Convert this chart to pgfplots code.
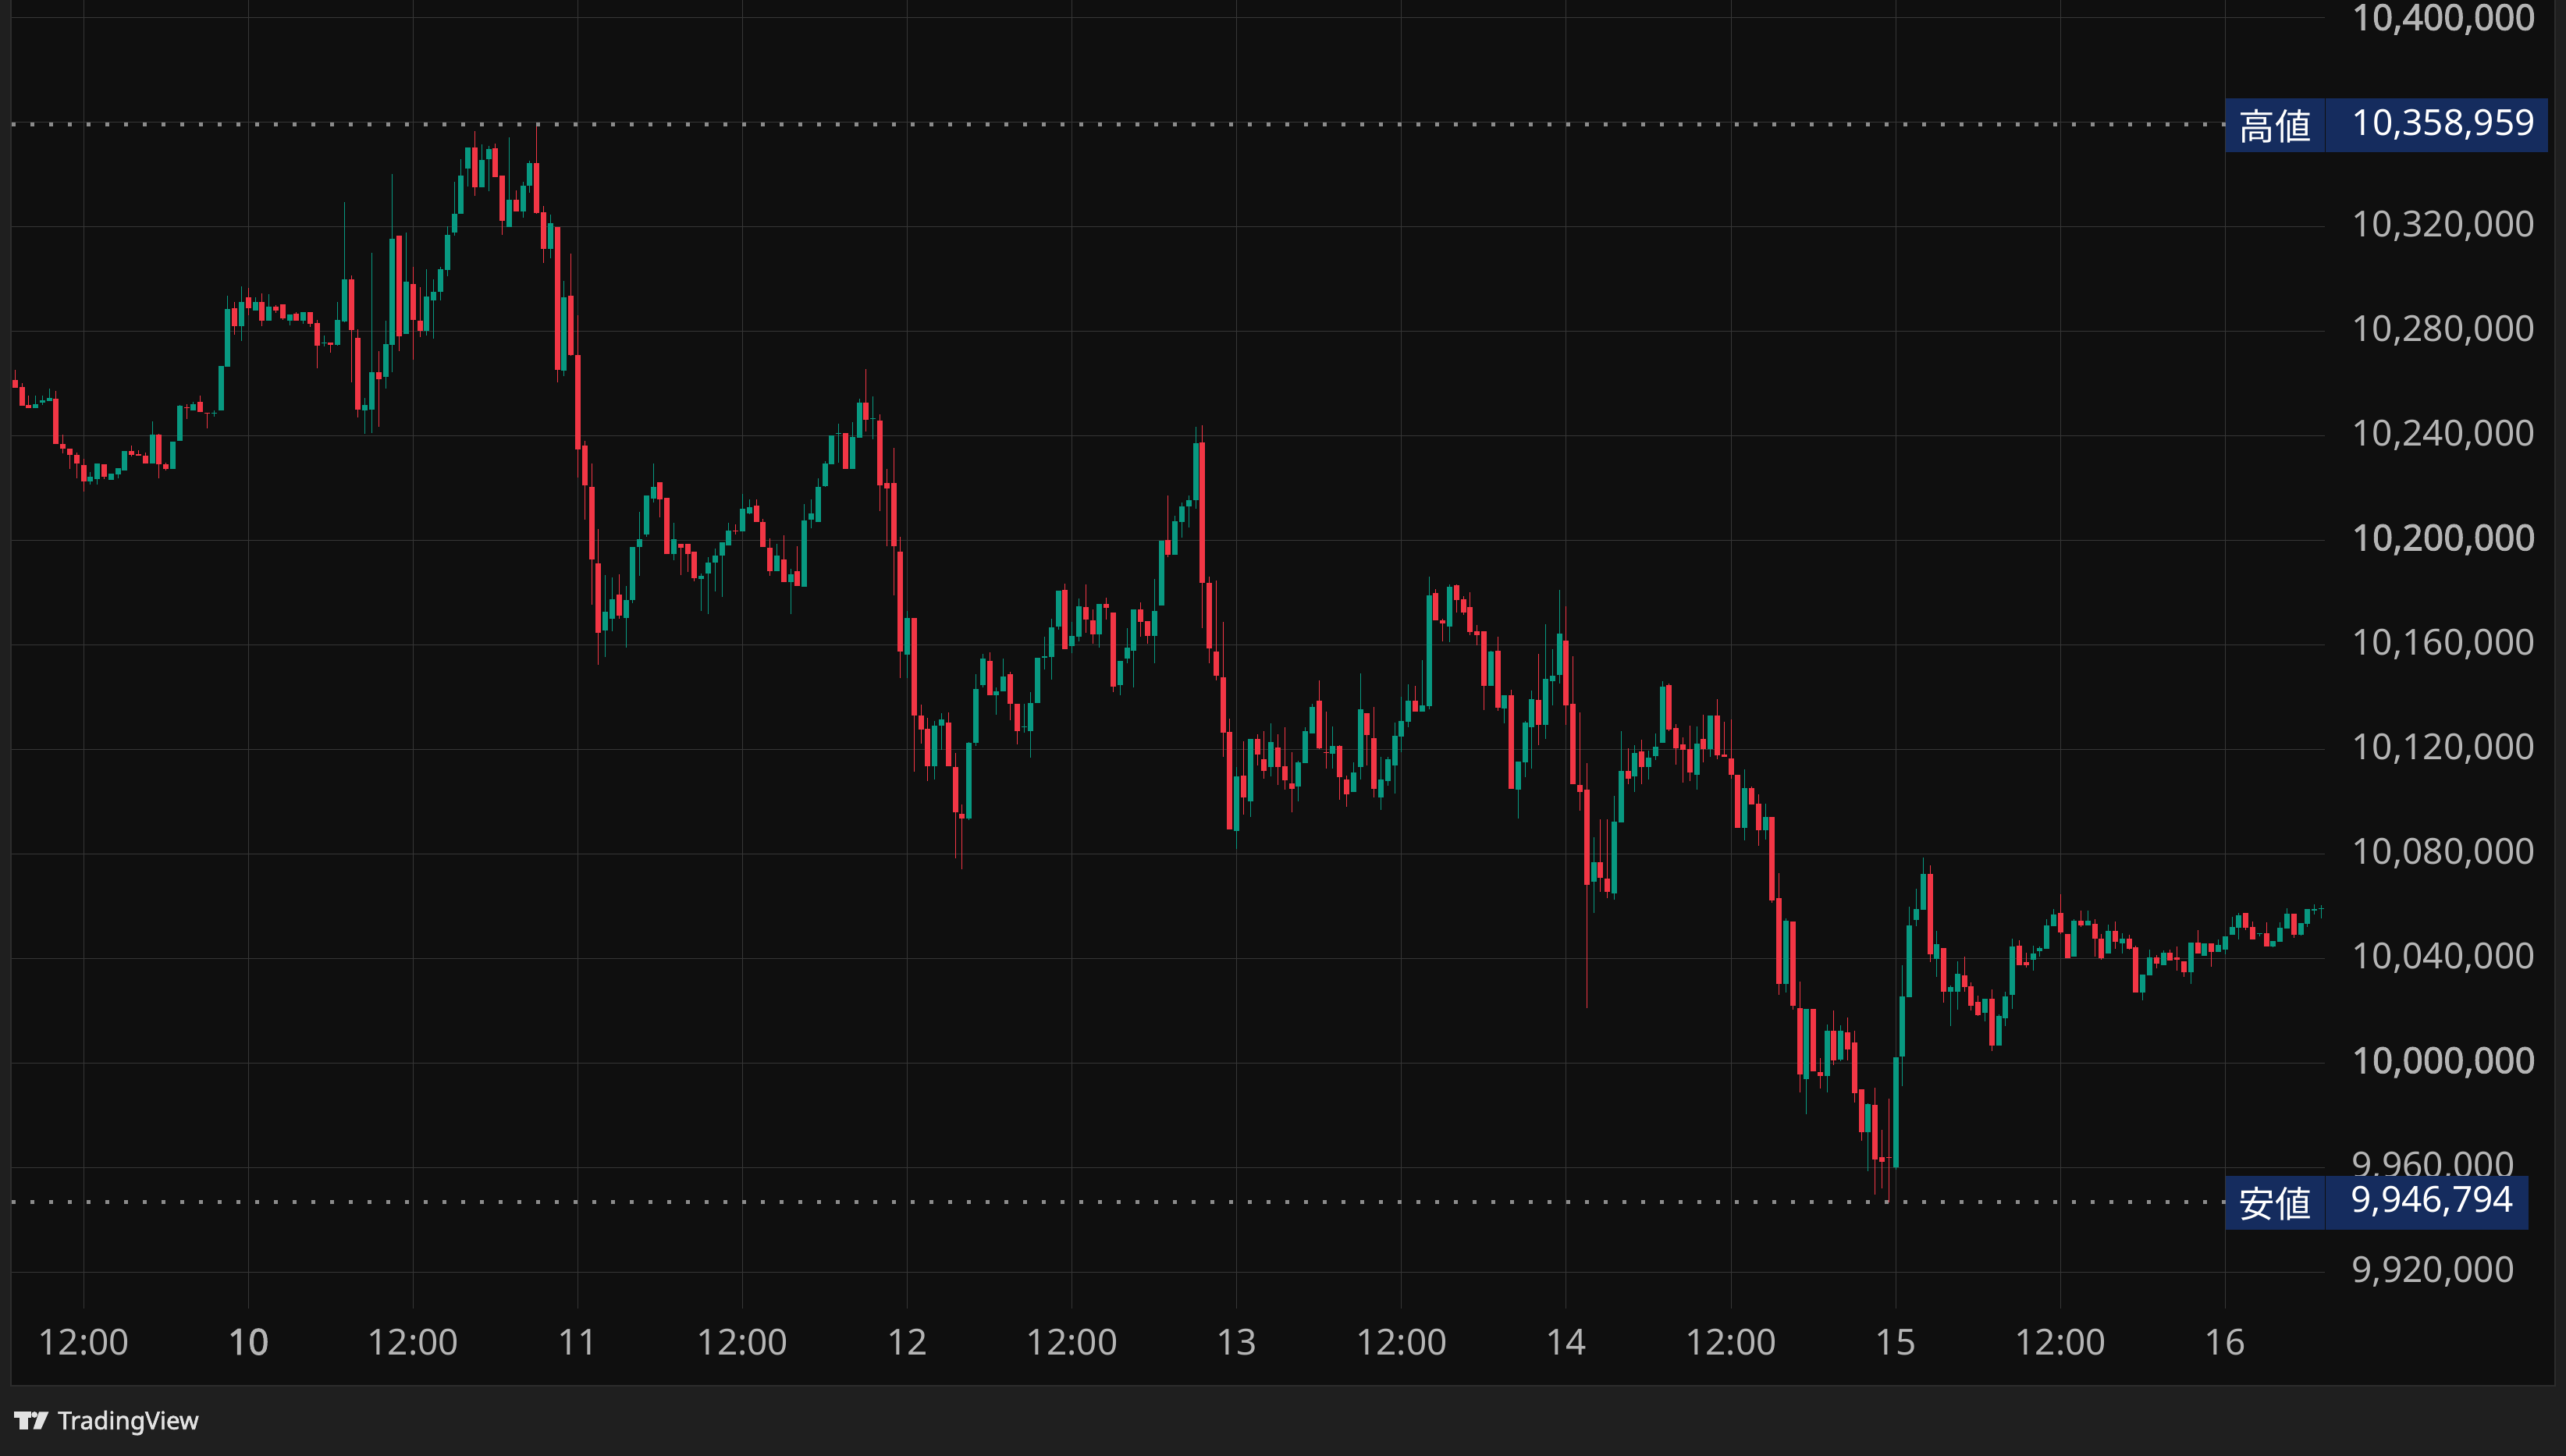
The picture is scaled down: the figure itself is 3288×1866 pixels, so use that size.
\documentclass[border=0pt]{standalone}
\usepackage{fontspec}
\setmainfont{Noto Sans}
\newfontfamily\nsbold{Noto Sans}[FakeBold=2]
\newfontfamily\jp{Noto Sans CJK JP}
\usepackage{graphicx}
\usepackage{pgfplots}
\pgfplotsset{compat=1.18}
\usepackage{pgfplotstable}
\definecolor{tvgreen}{HTML}{089981}
\definecolor{tvred}{HTML}{F23645}
\definecolor{bgpane}{HTML}{0F0F0F}
\definecolor{bgouter}{HTML}{1F1F1F}
\definecolor{borderc}{HTML}{2C2C2C}
\definecolor{gridc}{HTML}{363636}
\definecolor{labelc}{HTML}{B4B4B4}
\definecolor{dotc}{HTML}{8C8C8C}
\definecolor{boxc}{HTML}{152C5E}
\definecolor{logoc}{HTML}{E2E2E2}
\newcommand\lblfont{\fontsize{13.8pt}{16pt}\selectfont}
\newcommand\bnum[1]{{\nsbold #1}}

% t = hours from day 9 00:00 ; prices in thousands
\pgfplotstableread{
t O H L C
7 10261.3 10265.2 10258.4 10258.4
7.5 10258.6 10260.1 10251.5 10251.5
8 10251.8 10255.3 10250.4 10250.4
8.5 10250.4 10255.3 10250.4 10252.0
9 10252.7 10255.3 10251.8 10253.5
9.5 10253.3 10258.0 10253.3 10254.4
10 10254.1 10257.1 10236.9 10236.9
10.5 10236.8 10240.4 10233.3 10235.1
11 10235.0 10235.0 10227.4 10232.5
11.5 10232.7 10233.5 10223.8 10229.2
12 10228.8 10231.2 10218.6 10222.6
12.5 10222.6 10226.1 10221.4 10224.3
13 10223.5 10229.4 10221.4 10229.4
13.5 10229.1 10229.1 10223.5 10224.4
14 10223.2 10225.5 10223.2 10225.5
14.5 10225.3 10227.6 10223.8 10227.6
15 10226.8 10234.1 10226.8 10234.1
15.5 10234.1 10236.2 10231.9 10232.7
16 10232.9 10234.4 10232.2 10232.2
16.5 10232.3 10233.5 10229.2 10229.2
17 10229.2 10245.5 10229.2 10240.4
17.5 10240.4 10240.6 10223.6 10228.9
18 10229.1 10229.7 10226.8 10227.4
18.5 10227.4 10237.7 10227.4 10237.7
19 10238.1 10251.8 10238.1 10251.5
19.5 10250.5 10252.0 10246.5 10250.4
20 10249.5 10252.9 10249.5 10252.0
20.5 10252.9 10255.3 10248.9 10248.9
21 10248.5 10248.5 10242.9 10248.4
21.5 10248.4 10249.7 10247.3 10248.5
22 10249.5 10266.7 10249.5 10266.7
22.5 10266.5 10293.5 10266.5 10288.5
23 10288.8 10291.2 10278.7 10282.0
23.5 10282.0 10297.1 10276.3 10291.2
24 10292.9 10296.5 10286.1 10288.8
24.5 10287.9 10292.9 10287.9 10291.2
25 10291.2 10294.4 10282.0 10284.0
25.5 10284.0 10294.1 10284.0 10289.4
26 10289.4 10290.0 10287.0 10287.9
26.5 10290.3 10290.3 10284.3 10284.9
27 10284.0 10286.4 10282.2 10286.4
27.5 10286.7 10287.3 10284.0 10284.0
28 10284.0 10287.3 10282.8 10287.3
28.5 10287.3 10287.3 10281.6 10282.8
29 10283.1 10284.3 10265.8 10274.4
29.5 10275.2 10278.3 10274.2 10275.5
30 10275.6 10275.6 10271.8 10274.8
30.5 10274.8 10291.2 10274.5 10284.3
31 10283.7 10329.4 10283.4 10299.8
31.5 10299.8 10301.3 10260.4 10280.4
32 10277.4 10280.7 10246.9 10249.9
32.5 10249.5 10254.4 10240.8 10251.8
33 10249.9 10310.0 10241.1 10264.3
33.5 10264.3 10272.3 10243.5 10261.7
34 10262.6 10284.0 10258.1 10275.0
34.5 10274.8 10340.1 10264.4 10315.3
35 10316.5 10316.5 10272.4 10278.1
35.5 10279.0 10317.8 10279.0 10298.9
36 10298.1 10304.7 10268.9 10284.2
36.5 10284.1 10296.8 10277.7 10280.1
37 10280.1 10303.7 10278.2 10293.3
37.5 10291.6 10299.9 10277.0 10295.1
38 10295.1 10304.7 10291.6 10303.7
38.5 10303.4 10320.0 10301.0 10316.8
39 10317.7 10337.1 10316.4 10324.9
39.5 10324.8 10345.8 10324.8 10339.6
40 10342.3 10350.3 10335.2 10350.3
40.5 10350.3 10356.6 10331.6 10334.9
41 10334.9 10351.5 10334.9 10345.5
41.5 10345.9 10350.8 10333.4 10349.7
42 10350.0 10351.8 10339.0 10339.0
42.5 10339.6 10339.6 10316.7 10322.2
43 10319.7 10354.1 10319.7 10330.3
43.5 10330.3 10333.8 10325.9 10325.9
44 10325.9 10337.1 10323.3 10335.6
44.5 10335.5 10345.2 10332.9 10344.4
45 10344.4 10358.959 10325.0 10325.3
45.5 10325.5 10327.9 10306.0 10311.4
46 10311.4 10324.7 10307.8 10321.4
46.5 10319.9 10319.9 10260.3 10265.1
47 10264.8 10299.3 10262.7 10293.0
47.5 10293.6 10309.7 10270.4 10270.8
48 10270.9 10286.2 10224.0 10234.6
48.5 10236.3 10237.9 10207.8 10220.9
49 10220.5 10229.4 10175.3 10192.6
49.5 10191.2 10204.4 10152.3 10164.5
50 10165.5 10186.6 10155.3 10172.5
50.5 10170.0 10185.9 10165.2 10177.5
51 10179.3 10187.1 10170.0 10171.1
51.5 10170.2 10182.6 10158.9 10177.2
52 10177.0 10197.5 10175.9 10197.5
52.5 10197.5 10210.7 10186.4 10200.3
53 10202.3 10217.0 10201.4 10217.0
53.5 10215.9 10229.2 10214.5 10220.5
54 10222.3 10222.3 10208.8 10215.7
54.5 10216.3 10216.3 10194.6 10194.6
55 10194.6 10206.8 10192.3 10200.3
55.5 10198.5 10198.5 10186.6 10197.1
56 10198.5 10198.5 10187.8 10194.6
56.5 10195.5 10195.5 10184.2 10185.6
57 10185.2 10187.2 10172.9 10186.4
57.5 10187.2 10193.4 10171.8 10191.5
58 10191.4 10196.8 10180.4 10194.2
58.5 10194.1 10199.3 10178.2 10199.3
59 10197.9 10206.8 10197.9 10203.8
59.5 10203.7 10206.0 10202.2 10203.5
60 10203.3 10217.7 10203.3 10211.9
60.5 10210.3 10215.5 10209.9 10212.5
61 10213.3 10215.5 10207.0 10207.0
61.5 10207.1 10208.2 10197.4 10197.4
62 10197.1 10200.7 10186.3 10188.1
62.5 10188.1 10198.5 10188.1 10194.0
63 10192.7 10201.8 10183.9 10183.9
63.5 10183.9 10188.9 10171.8 10187.1
64 10188.1 10197.7 10182.5 10182.5
64.5 10182.2 10213.9 10182.2 10207.6
65 10207.9 10215.6 10204.5 10210.2
65.5 10207.0 10223.7 10207.0 10220.4
66 10220.6 10230.3 10220.4 10229.4
66.5 10229.1 10240.1 10229.1 10240.1
67 10240.6 10244.6 10229.5 10240.9
67.5 10240.9 10240.9 10227.4 10227.4
68 10227.4 10245.3 10227.4 10239.5
68.5 10239.3 10254.1 10239.3 10252.6
69 10252.6 10265.5 10241.7 10246.2
69.5 10246.4 10255.0 10238.7 10246.6
70 10245.8 10248.1 10211.2 10221.1
70.5 10221.9 10227.3 10197.6 10219.9
71 10221.9 10235.3 10179.0 10197.6
71.5 10195.6 10201.4 10147.4 10157.5
72 10156.3 10172.9 10147.4 10170.2
72.5 10170.2 10170.2 10111.3 10132.9
73 10132.9 10137.1 10122.2 10127.7
73.5 10127.8 10131.9 10108.0 10113.4
74 10113.4 10130.8 10108.5 10129.0
74.5 10129.1 10133.9 10119.7 10131.4
75 10130.2 10134.1 10113.6 10113.6
75.5 10113.2 10118.6 10078.4 10096.0
76 10095.2 10098.9 10074.0 10093.4
76.5 10093.4 10122.8 10093.0 10122.4
77 10122.4 10148.7 10121.3 10143.1
77.5 10144.6 10156.5 10143.8 10154.7
78 10153.8 10157.2 10140.8 10140.8
78.5 10140.6 10143.7 10133.3 10142.3
79 10142.3 10154.7 10142.3 10147.8
79.5 10148.7 10149.6 10131.0 10137.3
80 10137.3 10137.3 10122.0 10127.0
80.5 10128.5 10137.3 10126.5 10128.7
81 10127.0 10142.0 10116.7 10137.7
81.5 10137.8 10155.0 10137.8 10155.0
82 10155.0 10163.0 10150.4 10155.7
82.5 10155.4 10170.0 10146.7 10166.7
83 10167.1 10180.6 10165.9 10180.6
83.5 10181.0 10183.4 10158.4 10158.4
84 10159.6 10168.7 10156.7 10163.4
84.5 10163.2 10177.7 10161.3 10174.7
85 10174.5 10183.0 10164.6 10169.6
85.5 10169.2 10173.5 10160.4 10163.9
86 10163.9 10175.6 10159.0 10175.6
86.5 10175.5 10178.0 10169.5 10174.1
87 10172.2 10172.2 10142.0 10144.1
87.5 10144.6 10153.8 10140.8 10153.8
88 10154.7 10166.3 10152.9 10158.8
88.5 10157.8 10173.5 10143.8 10173.5
89 10173.5 10176.2 10163.2 10168.7
89.5 10169.1 10169.1 10160.3 10163.5
90 10163.5 10185.1 10153.0 10172.9
90.5 10175.1 10199.8 10175.1 10199.8
91 10200.1 10217.1 10193.4 10194.3
91.5 10194.3 10209.3 10194.3 10207.3
92 10206.9 10214.4 10200.9 10212.9
92.5 10212.8 10217.1 10204.8 10215.3
93 10215.4 10243.4 10212.0 10237.1
93.5 10237.4 10244.0 10166.4 10183.7
94 10183.7 10186.1 10152.9 10158.6
94.5 10157.4 10184.5 10146.3 10148.2
95 10147.5 10168.8 10117.1 10126.3
95.5 10126.7 10131.7 10089.3 10089.3
96 10088.7 10113.2 10081.8 10109.6
96.5 10109.9 10123.1 10095.1 10101.6
97 10100.1 10124.0 10094.2 10124.0
97.5 10124.0 10125.7 10113.9 10118.0
98 10116.1 10126.9 10108.8 10111.7
98.5 10113.2 10129.9 10109.6 10122.8
99 10120.7 10125.7 10106.4 10113.2
99.5 10113.5 10128.4 10104.5 10108.1
100 10106.9 10118.9 10095.8 10105.0
100.5 10105.7 10115.6 10100.1 10114.9
101 10114.7 10128.4 10114.7 10126.9
101.5 10126.0 10137.4 10126.0 10136.2
102 10138.6 10146.3 10120.0 10120.4
102.5 10118.8 10134.4 10112.5 10118.6
103 10118.4 10128.7 10112.7 10121.2
103.5 10121.2 10121.5 10100.7 10109.4
104 10108.4 10110.0 10098.1 10102.9
104.5 10103.8 10114.9 10103.8 10111.2
105 10113.3 10149.0 10108.4 10135.2
105.5 10133.8 10133.8 10113.9 10125.6
106 10124.3 10136.2 10101.7 10105.0
106.5 10101.7 10117.1 10096.9 10108.4
107 10107.9 10117.1 10106.2 10116.1
107.5 10113.9 10130.3 10103.0 10125.2
108 10125.0 10140.0 10119.0 10130.8
108.5 10130.6 10144.8 10128.5 10138.6
109 10138.6 10144.3 10134.5 10134.5
109.5 10134.5 10154.1 10134.5 10136.8
110 10136.6 10186.1 10135.4 10178.9
110.5 10179.8 10181.3 10169.4 10169.4
111 10169.3 10170.0 10161.3 10168.1
111.5 10167.1 10183.1 10161.1 10182.1
112 10182.8 10183.1 10172.2 10177.1
112.5 10177.4 10178.5 10171.3 10172.2
113 10174.4 10180.0 10163.8 10165.0
113.5 10165.2 10167.5 10159.7 10163.8
114 10165.2 10165.2 10135.0 10144.4
114.5 10144.4 10157.7 10144.4 10157.4
115 10157.7 10163.0 10134.8 10136.0
115.5 10135.7 10140.7 10130.0 10140.7
116 10140.7 10142.7 10105.0 10105.0
116.5 10104.6 10115.3 10093.4 10115.3
117 10115.1 10130.8 10109.4 10130.3
117.5 10128.5 10142.4 10112.5 10139.2
118 10138.8 10156.4 10121.7 10129.2
118.5 10129.4 10167.8 10124.1 10147.0
119 10146.1 10158.3 10136.9 10148.2
119.5 10148.5 10180.9 10145.2 10164.2
120 10161.5 10174.8 10129.4 10136.9
120.5 10137.4 10155.5 10106.7 10106.7
121 10106.4 10134.1 10096.6 10103.8
121.5 10104.5 10114.6 10021.1 10068.1
122 10069.3 10086.4 10057.3 10076.8
122.5 10076.8 10093.1 10065.4 10070.8
123 10070.4 10093.1 10063.0 10065.4
123.5 10064.9 10102.2 10062.4 10092.3
124 10091.9 10126.9 10091.9 10111.6
124.5 10111.6 10120.5 10106.6 10108.6
125 10109.6 10121.5 10103.6 10118.5
125.5 10119.1 10123.6 10106.6 10113.1
126 10113.1 10119.5 10108.4 10116.8
126.5 10117.3 10126.2 10115.8 10120.9
127 10122.4 10146.2 10122.4 10143.9
127.5 10144.5 10145.1 10126.9 10127.7
128 10128.1 10129.6 10114.1 10120.3
128.5 10121.8 10124.5 10107.2 10119.7
129 10120.0 10128.9 10107.8 10111.1
129.5 10110.1 10128.6 10104.7 10122.2
130 10123.9 10133.1 10115.0 10120.0
130.5 10120.0 10132.8 10117.0 10132.8
131 10132.8 10139.2 10116.1 10117.6
131.5 10118.0 10130.4 10117.0 10117.0
132 10116.5 10131.4 10108.6 10110.1
132.5 10110.1 10110.1 10089.9 10089.9
133 10089.9 10112.3 10085.1 10105.1
133.5 10105.1 10105.9 10098.8 10098.8
134 10099.1 10102.7 10083.2 10088.9
134.5 10088.9 10099.1 10085.5 10094.1
135 10094.1 10094.1 10061.3 10062.2
135.5 10063.0 10072.6 10026.1 10030.3
136 10030.3 10055.3 10027.0 10054.3
136.5 10054.1 10054.1 10020.4 10021.9
137 10020.9 10031.1 9988.6 9995.7
137.5 9993.8 10020.7 9980.5 10020.7
138 10020.7 10020.7 9996.8 9996.8
138.5 9996.5 10001.9 9990.3 9995.1
139 9995.1 10014.6 9988.6 10012.3
139.5 10012.3 10020.0 9999.3 10001.1
140 10001.3 10014.3 10000.7 10012.3
140.5 10011.6 10017.3 10001.1 10005.3
141 10007.8 10012.3 9984.9 9988.5
141.5 9989.9 9989.9 9970.3 9973.6
142 9973.6 9984.6 9958.6 9984.2
142.5 9983.9 9990.5 9949.7 9963.1
143 9964.0 9974.3 9951.9 9962.3
143.5 9964.0 9986.3 9946.794 9963.8
144 9960.0 10002.2 9959.2 10002.2
144.5 10002.6 10037.3 9991.2 10025.4
145 10025.1 10059.7 10025.1 10052.6
145.5 10054.7 10066.6 10052.4 10058.8
146 10058.5 10078.5 10058.5 10072.3
146.5 10072.3 10075.5 10038.6 10041.6
147 10039.9 10050.5 10033.0 10045.4
147.5 10043.9 10043.9 10023.1 10027.3
148 10027.3 10029.7 10014.2 10028.9
148.5 10027.3 10038.8 10020.4 10034.1
149 10033.5 10040.7 10027.3 10029.1
149.5 10029.3 10030.8 10020.1 10021.9
150 10023.4 10025.9 10018.1 10018.4
150.5 10019.3 10024.6 10016.0 10024.6
151 10024.6 10028.2 10004.7 10006.8
151.5 10006.8 10018.6 10006.8 10018.0
152 10017.2 10027.3 10014.2 10025.5
152.5 10026.2 10047.6 10020.8 10044.6
153 10044.9 10047.0 10037.5 10037.5
153.5 10038.6 10042.2 10036.6 10037.5
154 10039.6 10044.9 10035.4 10041.9
154.5 10042.9 10044.6 10040.8 10044.0
155 10043.8 10055.0 10043.8 10052.6
155.5 10052.3 10058.9 10052.3 10056.8
156 10057.4 10064.6 10049.2 10050.0
156.5 10049.4 10049.4 10040.2 10040.2
157 10040.8 10055.0 10040.8 10054.4
157.5 10054.4 10058.3 10052.1 10052.7
158 10052.7 10058.3 10052.7 10054.4
158.5 10053.2 10055.0 10040.8 10047.7
159 10047.6 10049.4 10039.6 10040.2
159.5 10042.0 10052.9 10042.0 10050.5
160 10050.5 10054.1 10043.8 10046.5
160.5 10045.9 10049.7 10042.0 10047.6
161 10047.6 10049.1 10043.5 10043.8
161.5 10044.3 10044.9 10027.1 10027.1
162 10027.1 10033.8 10024.1 10033.8
162.5 10033.6 10043.4 10033.6 10040.4
163 10040.4 10041.3 10036.3 10038.1
163.5 10037.5 10043.1 10037.5 10042.2
164 10042.2 10043.4 10039.3 10039.3
164.5 10040.4 10044.6 10035.4 10039.6
165 10038.9 10038.9 10033.0 10034.8
165.5 10034.8 10046.1 10030.3 10046.1
166 10046.1 10050.8 10042.0 10042.0
166.5 10041.1 10045.8 10041.1 10045.8
167 10045.8 10045.8 10036.9 10042.6
167.5 10042.6 10047.3 10042.6 10045.2
168 10043.5 10048.5 10041.7 10048.5
168.5 10048.9 10055.9 10048.9 10052.0
169 10051.8 10057.4 10047.4 10056.5
169.5 10057.4 10057.4 10050.9 10051.8
170 10052.0 10054.1 10047.4 10047.4
170.5 10049.2 10049.7 10048.3 10049.7
171 10049.7 10053.8 10044.7 10044.7
171.5 10044.7 10046.7 10044.4 10046.7
172 10046.5 10053.8 10046.5 10051.7
172.5 10051.5 10059.2 10051.5 10057.1
173 10057.1 10057.1 10048.0 10048.9
173.5 10048.9 10053.5 10048.6 10053.5
174 10053.2 10058.9 10052.1 10058.9
174.5 10058.3 10060.7 10056.8 10058.9
175 10058.9 10060.4 10055.3 10059.2
}\candles

\begin{document}
\begin{tikzpicture}[x=0.3pt,y=-0.3pt]
\useasboundingbox (0,0) rectangle (3288,1866);
\fill[bgouter] (0,0) rectangle (3288,1866);
\fill[bgpane] (15,0) rectangle (3273,1775);
\draw[borderc, line width=0.6pt] (14,0) -- (14,1776) -- (3274,1776) -- (3274,0);

\begin{axis}[
  at={(4.5pt,-503.01pt)}, anchor=south west,
  width=889.2pt, height=503.01pt, scale only axis,
  xmin=6.76, xmax=175.26, ymin=9906.15, ymax=10406.66,
  axis line style={draw=none},
  major tick length=0pt, tick style={draw=none},
  xtick={12,24,36,48,60,72,84,96,108,120,132,144,156,168},
  xticklabels={12:00,\bnum{10},12:00,11,12:00,12,12:00,13,12:00,14,12:00,15,12:00,16},
  ytick={9920,9960,10000,10040,10080,10120,10160,10200,10240,10280,10320,10360,10400},
  yticklabels={{9,920,000},{9,960,000},{\bnum{10,000,000}},{10,040,000},{10,080,000},{10,120,000},{10,160,000},{\bnum{10,200,000}},{10,240,000},{10,280,000},{10,320,000},{},{}},
  yticklabel pos=right,
  grid=major,
  major grid style={draw=gridc, line width=0.3pt},
  ticklabel style={font=\lblfont, text=labelc, inner sep=0pt},
  xticklabel style={anchor=base, yshift=-17.8pt},
  yticklabel style={anchor=base west, xshift=10.2pt, yshift=-3.9pt},
  clip=true,
]
% wicks
\addplot[draw=none, no markers, forget plot,
  error bars/.cd, y dir=plus, y explicit, error mark=none,
  error bar style={draw=tvgreen, solid, line width=0.3pt}]
  table[x=t, y expr={\thisrow{C}>=\thisrow{O} ? \thisrow{L} : nan},
        y error plus expr={\thisrow{H}-\thisrow{L}}] {\candles};
\addplot[draw=none, no markers, forget plot,
  error bars/.cd, y dir=plus, y explicit, error mark=none,
  error bar style={draw=tvred, solid, line width=0.3pt}]
  table[x=t, y expr={\thisrow{C}<\thisrow{O} ? \thisrow{L} : nan},
        y error plus expr={\thisrow{H}-\thisrow{L}}] {\candles};
% bodies
\addplot[draw=none, no markers, forget plot,
  error bars/.cd, y dir=plus, y explicit, error mark=none,
  error bar style={draw=tvgreen, solid, line width=2.1pt}]
  table[x=t, y expr={\thisrow{C}>=\thisrow{O} ? \thisrow{O} : nan},
        y error plus expr={max(abs(\thisrow{C}-\thisrow{O}),0.3)}] {\candles};
\addplot[draw=none, no markers, forget plot,
  error bars/.cd, y dir=plus, y explicit, error mark=none,
  error bar style={draw=tvred, solid, line width=2.1pt}]
  table[x=t, y expr={\thisrow{C}<\thisrow{O} ? \thisrow{C} : nan},
        y error plus expr={max(abs(\thisrow{C}-\thisrow{O}),0.3)}] {\candles};
% high / low lines
\addplot[dotc, line width=1.5pt, dash pattern=on 1.5pt off 5.7pt, no markers, forget plot]
  coordinates {(6.76,10358.959) (168.03,10358.959)};
\addplot[dotc, line width=1.5pt, dash pattern=on 1.5pt off 5.7pt, no markers, forget plot]
  coordinates {(6.76,9946.794) (168.03,9946.794)};
\end{axis}

% top price label (kept just inside the page)
\node[anchor=base west, inner sep=0pt, text=labelc, font=\lblfont] at (3013,38.5) {\bnum{10,400,000}};

% high label
\fill[boxc] (2851.7,126) rectangle (2978.7,194.7);
\fill[boxc] (2979.7,126) rectangle (3265,194.7);
\node[anchor=base, inner sep=0pt, text=white, font=\jp\fontsize{14pt}{16pt}\selectfont] at (2915.5,180) {高値};
\node[anchor=base west, inner sep=0pt, text=white, font=\lblfont] at (3013,173.3) {10,358,959};
% low label
\fill[boxc] (2851.7,1507) rectangle (2978.7,1575.7);
\fill[boxc] (2979.7,1507) rectangle (3240,1575.7);
\node[anchor=base, inner sep=0pt, text=white, font=\jp\fontsize{14pt}{16pt}\selectfont] at (2915.5,1560) {安値};
\node[anchor=base west, inner sep=0pt, text=white, font=\lblfont] at (3011.7,1553.3) {9,946,794};

% TradingView logo
\fill[logoc] (17.9,1809.3) rectangle (40.2,1816.7);
\fill[logoc] (25.4,1816.7) rectangle (35.7,1831.7);
\fill[logoc] (44.2,1813) circle[radius=1.17pt];
\fill[logoc] (50,1809.3) -- (62.5,1809.3) -- (52.5,1831.7) -- (42.5,1831.7) -- cycle;
\node[anchor=base west, inner sep=0pt, text=logoc] at (73.7,1831.7)
  {\fontsize{9.4pt}{11pt}\selectfont\nsbold TradingView};
\end{tikzpicture}
\end{document}
